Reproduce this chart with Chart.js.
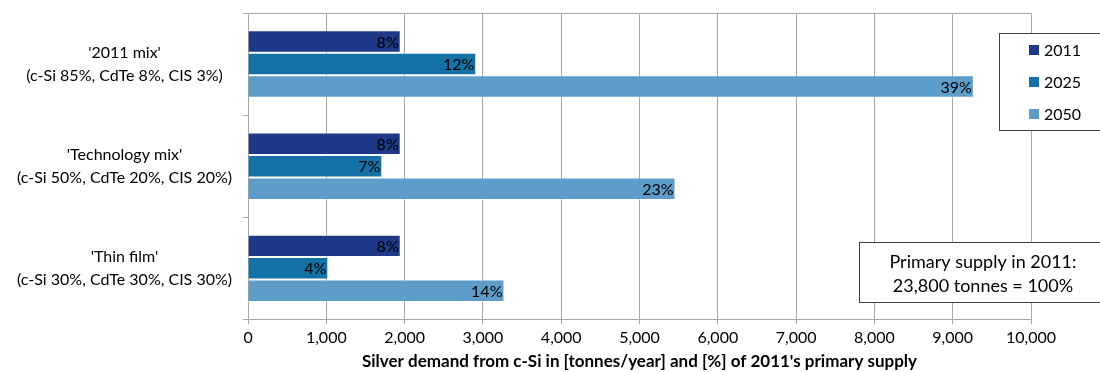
<html>

<head>
    <script src="https://cdn.jsdelivr.net/npm/chart.js@4"></script>
    <style>
        body { margin: 0; background: #fff; }
        #dataChart { display: block; }
    </style>
</head>

<body>
    <canvas id="dataChart" width="1100" height="372"></canvas>
</body>
<script>
    // scenario labels (two lines each)
    var scenarios = [
        ["'2011 mix'", "(c-Si 85%, CdTe 8%, CIS 3%)"],
        ["'Technology mix'", "(c-Si 50%, CdTe 20%, CIS 20%)"],
        ["'Thin film'", "(c-Si 30%, CdTe 30%, CIS 30%)"]
    ];
    var years = ["2011", "2025", "2050"];
    // silver demand in tonnes/year
    var demand2011 = [1950, 1950, 1950];
    var demand2025 = [2915, 1715, 1025];
    var demand2050 = [9270, 5460, 3275];
    // share of 2011 primary supply
    var pct2011 = ["8%", "8%", "8%"];
    var pct2025 = ["12%", "7%", "4%"];
    var pct2050 = ["39%", "23%", "14%"];
    var supplyNote = ["Primary supply in 2011:", "23,800 tonnes = 100%"];

    var colors = ["#1d3987", "#1472a7", "#5e9cc9"];
    var gridColor = "#a6a6a6";
    var fontName = "Lato, 'Open Sans', sans-serif";

    // bar value labels, inside end
    var barLabels = {
        id: 'barLabels',
        afterDatasetsDraw: function (chart) {
            var ctx = chart.ctx;
            ctx.save();
            ctx.font = "16px " + fontName;
            ctx.fillStyle = "#000";
            ctx.textAlign = "right";
            ctx.textBaseline = "middle";
            chart.data.datasets.forEach(function (ds, i) {
                chart.getDatasetMeta(i).data.forEach(function (bar, j) {
                    ctx.fillText(ds.pctLabels[j], bar.x - 2, bar.y + 1);
                });
            });
            ctx.restore();
        }
    };

    // top border, legend box and the note box
    var extras = {
        id: 'extras',
        afterDraw: function (chart) {
            var ctx = chart.ctx;
            var area = chart.chartArea;
            ctx.save();
            ctx.strokeStyle = gridColor;
            ctx.lineWidth = 1;
            ctx.beginPath();
            ctx.moveTo(area.left - 5, area.top + 0.5);
            ctx.lineTo(area.right, area.top + 0.5);
            ctx.stroke();

            // legend
            ctx.fillStyle = "#fff";
            ctx.fillRect(999, 33, 110, 98);
            ctx.strokeStyle = "#404040";
            ctx.strokeRect(999.5, 33.5, 110, 97);
            ctx.font = "16px " + fontName;
            ctx.textAlign = "left";
            ctx.textBaseline = "middle";
            years.forEach(function (y, i) {
                var cy = 50 + i * 32;
                ctx.fillStyle = colors[i];
                ctx.fillRect(1029, cy - 5, 10, 10);
                ctx.fillStyle = "#000";
                ctx.fillText(y, 1044, cy + 1);
            });

            // note box
            ctx.fillStyle = "#fff";
            ctx.fillRect(859, 242, 250, 61);
            ctx.strokeStyle = "#404040";
            ctx.strokeRect(859.5, 242.5, 250, 60);
            ctx.fillStyle = "#000";
            ctx.font = "18px " + fontName;
            ctx.textAlign = "center";
            ctx.fillText(supplyNote[0], 983, 262);
            ctx.fillText(supplyNote[1], 983, 286);
            ctx.restore();
        }
    };

    var ctx = document.getElementById("dataChart");
    var myChart = new Chart(ctx, {
        type: 'bar',
        data: {
            labels: scenarios,
            datasets: [{
                label: years[0],
                data: demand2011,
                pctLabels: pct2011,
                backgroundColor: colors[0]
            }, {
                label: years[1],
                data: demand2025,
                pctLabels: pct2025,
                backgroundColor: colors[1]
            }, {
                label: years[2],
                data: demand2050,
                pctLabels: pct2050,
                backgroundColor: colors[2]
            }]
        },
        options: {
            indexAxis: 'y',
            responsive: false,
            animation: false,
            datasets: {
                bar: {
                    barPercentage: 1,
                    categoryPercentage: 0.66,
                    borderColor: "rgba(255,255,255,0.5)",
                    borderWidth: 1
                }
            },
            layout: { padding: { top: 13, right: 69, left: 6, bottom: 0 } },
            plugins: {
                legend: { display: false },
                tooltip: { enabled: false }
            },
            scales: {
                x: {
                    min: 0,
                    max: 10000,
                    ticks: {
                        stepSize: 1000,
                        color: "#000",
                        font: { family: fontName, size: 16 },
                        padding: 4
                    },
                    grid: { color: gridColor, tickLength: 5 },
                    border: { color: gridColor },
                    title: {
                        display: true,
                        text: "Silver demand from c-Si in [tonnes/year] and [%] of 2011's primary supply",
                        color: "#000",
                        font: { family: fontName, size: 17, weight: 'bold' },
                        padding: { top: 0, bottom: 0 }
                    }
                },
                y: {
                    afterFit: function (scale) {
                        // labels sit inside their bands, no extra room needed above/below
                        scale.paddingTop = 0;
                        scale.paddingBottom = 0;
                    },
                    ticks: {
                        color: "#000",
                        font: { family: fontName, size: 16, lineHeight: 1.45 },
                        crossAlign: 'center',
                        padding: 11
                    },
                    grid: { offset: true, drawOnChartArea: false, color: gridColor, tickLength: 5 },
                    border: { color: gridColor }
                }
            }
        },
        plugins: [barLabels, extras]
    });
</script>

</html>
